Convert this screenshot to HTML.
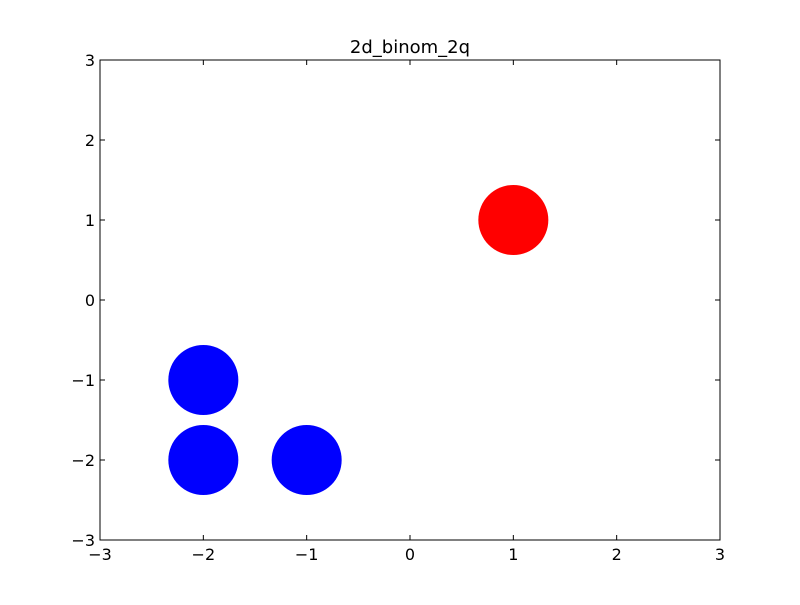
<!DOCTYPE html>
<html><head><meta charset="utf-8"><style>
body{margin:0;background:#fff;}
svg text{font-family:"DejaVu Sans","Liberation Sans",sans-serif;}
</style></head><body>
<svg id="chart" width="800" height="600" xmlns="http://www.w3.org/2000/svg">
<rect width="800" height="600" fill="#fff"/>
<text x="410" y="53" font-size="18" text-anchor="middle">2d_binom_2q</text>
<g id="marks"></g>
<g id="axes"></g>
<rect x="100" y="60" width="620" height="480" fill="none" stroke="#000" stroke-width="1"/>
</svg>
<script>
const xTicks=[-3,-2,-1,0,1,2,3];
const yTicks=[-3,-2,-1,0,1,2,3];
const redX=[1];
const redY=[1];
const blueX=[-2,-2,-1];
const blueY=[-1,-2,-2];
const X0=100,X1=720,Y0=540,Y1=60;
function sx(v){return X0+(v+3)/6*(X1-X0);}
function sy(v){return Y0-(v+3)/6*(Y0-Y1);}
const ns='http://www.w3.org/2000/svg';
const axes=document.getElementById('axes');
const marks=document.getElementById('marks');
function lab(v){return v<0?'\u2212'+Math.abs(v):String(v);}
function line(x1,y1,x2,y2){const l=document.createElementNS(ns,'line');l.setAttribute('x1',x1);l.setAttribute('y1',y1);l.setAttribute('x2',x2);l.setAttribute('y2',y2);l.setAttribute('stroke','#000');


axes.appendChild(l);}
xTicks.forEach(v=>{const x=sx(v);line(x,Y0,x,Y0-5);line(x,Y1,x,Y1+5);
const t=document.createElementNS(ns,'text');t.setAttribute('x',x);t.setAttribute('y',Y0+20);t.setAttribute('font-size','16');t.setAttribute('text-anchor','middle');t.textContent=lab(v);


axes.appendChild(t);});
yTicks.forEach(v=>{const y=sy(v);line(X0,y,X0+5,y);line(X1,y,X1-5,y);
const t=document.createElementNS(ns,'text');t.setAttribute('x',X0-5);t.setAttribute('y',y+6);t.setAttribute('font-size','16');t.setAttribute('text-anchor','end');t.textContent=lab(v);


axes.appendChild(t);});
function dots(xs,ys,color,name){xs.forEach((v,i)=>{const c=document.createElementNS(ns,'circle');c.setAttribute('cx',sx(v));c.setAttribute('cy',sy(ys[i]));c.setAttribute('r',35);c.setAttribute('fill',color);


marks.appendChild(c);});}
dots(blueX,blueY,'#0000ff','blue-point');
dots(redX,redY,'#ff0000','red-point');
</script>
</body></html>
